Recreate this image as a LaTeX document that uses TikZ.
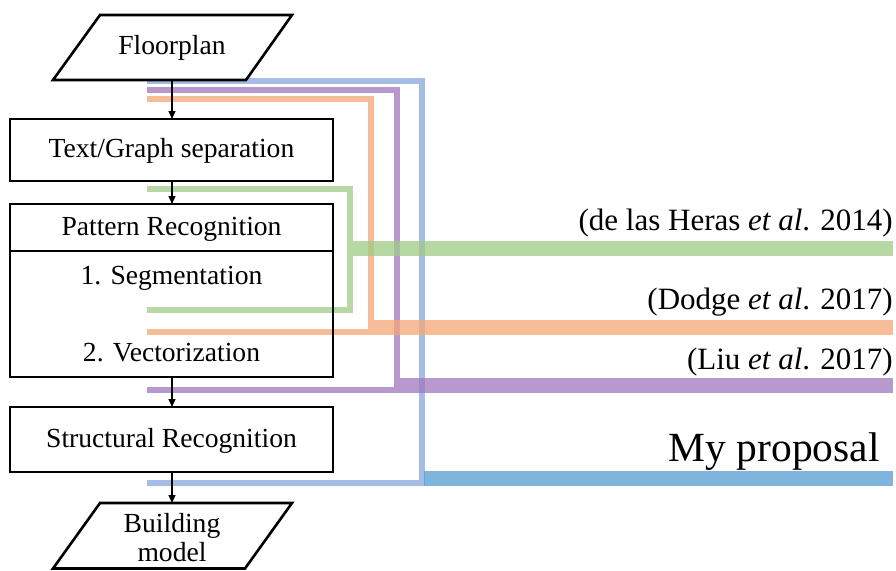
\documentclass[tikz,border=0pt]{standalone}
\usepackage{fontspec}
\setmainfont{Liberation Serif}
\usetikzlibrary{arrows.meta}

% colours of the four method tracks
\definecolor{trkgreen}{RGB}{160,202,135}
\definecolor{trkorange}{RGB}{244,168,118}
\definecolor{trkpurple}{RGB}{159,120,192}
\definecolor{trkblue}{RGB}{136,167,220}
\definecolor{trkbluedark}{RGB}{85,156,210}

\tikzset{
  stepbox/.style={draw=black, line width=1.6pt, fill=white},
  iobox/.style={draw=black, line width=2.6pt, fill=white, line join=miter},
  flow/.style={draw=black, line width=1.1pt, -{Triangle[length=8pt,width=7pt]}},
  track/.style={line width=6pt, opacity=0.75, line join=miter, line cap=butt},
  band/.style={line width=15pt, opacity=0.75, line cap=butt},
  boxtext/.style={font=\fontsize{27.6}{30}\selectfont, inner sep=0pt},
  cite/.style={font=\fontsize{31}{34}\selectfont, inner sep=0pt, anchor=east},
}

\begin{document}
\begin{tikzpicture}[x=1pt, y=-1pt]
\useasboundingbox (0,0) rectangle (896,570);
\fill[white] (0,0) rectangle (896,570);

% box interiors first, so the tracks run over them
\fill[white] (10,119) rectangle (333,181);
\fill[white] (10,204) rectangle (333,377);
\fill[white] (10,407) rectangle (333,472);

% tracks of the four methods
\draw[track, trkblue]   (147,80.5) -- (421.5,80.5) -- (421.5,482.5) -- (147,482.5);
\draw[band, trkbluedark] (424,478) -- (893,478);

\draw[track, trkpurple] (147,89.5) -- (397,89.5) -- (397,390) -- (147,390);
\draw[band, trkpurple]  (400,385) -- (893,385);

\draw[track, trkorange] (147,98.5) -- (371,98.5) -- (371,331.5) -- (147,331.5);
\draw[band, trkorange]  (374,327) -- (893,327);

\draw[track, trkgreen]  (147,188.5) -- (349.5,188.5) -- (349.5,310) -- (147,310);
\draw[band, trkgreen]   (353,248.5) -- (893,248.5);

% processing steps
\draw[stepbox, fill=none] (10,119) rectangle (333,181);
\node[boxtext] (sep) at (171.5,151) {Text/Graph separation};

\draw[stepbox, fill=none] (10,204) rectangle (333,377);
\draw[stepbox] (10,251) -- (333,251);
\node[boxtext] (pat) at (171.5,229) {Pattern Recognition};
\node[boxtext] (seg) at (171.5,278) {1. Segmentation};
\node[boxtext] (vec) at (171.5,353) {2. Vectorization};

\draw[stepbox, fill=none] (10,407) rectangle (333,472);
\node[boxtext] (str) at (171.5,441) {Structural Recognition};

% input and output
\draw[iobox] (100,15) -- (292,15) -- (246,80) -- (53,80) -- cycle;
\node[boxtext] (fp) at (172,48) {Floorplan};

\draw[iobox] (100,503) -- (292,503) -- (245,568.5) -- (53,568.5) -- cycle;
\node[boxtext, align=center] (bm) at (172,538) {Building\\[-1pt]model};

% flow arrows
\coordinate (a0) at (172,80);
\coordinate (a1) at (172,119);
\coordinate (b0) at (172,181);
\coordinate (b1) at (172,204);
\coordinate (c0) at (172,377);
\coordinate (c1) at (172,407);
\coordinate (d0) at (172,472);
\coordinate (d1) at (172,503);
\draw[flow] (a0) -- (a1);
\draw[flow] (b0) -- (b1);
\draw[flow] (c0) -- (c1);
\draw[flow] (d0) -- (d1);

% method labels
\node[cite] (heras) at (893,223) {(de las Heras \textit{et al}. 2014)};
\node[cite] (dodge) at (893,302) {(Dodge \textit{et al}. 2017)};
\node[cite] (liu)   at (893,362) {(Liu \textit{et al}. 2017)};
\node[font=\fontsize{41.5}{44}\selectfont, inner sep=0pt, anchor=east] (mine) at (880,452) {My proposal};
\end{tikzpicture}
\end{document}
